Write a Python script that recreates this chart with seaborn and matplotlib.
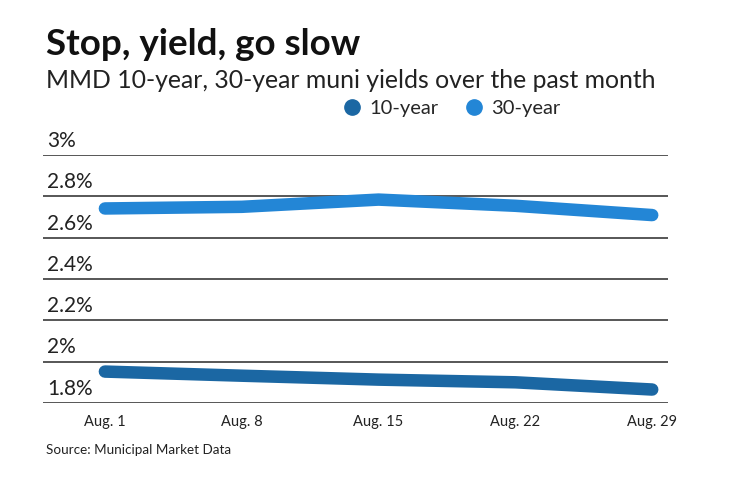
import matplotlib
matplotlib.use("Agg")
import matplotlib.pyplot as plt
import matplotlib.transforms as mtransforms
from matplotlib.lines import Line2D
import pandas as pd
import seaborn as sns

# data
dates = ["Aug. 1", "Aug. 8", "Aug. 15", "Aug. 22", "Aug. 29"]
ten_year = [1.952, 1.932, 1.913, 1.900, 1.865]
thirty_year = [2.742, 2.750, 2.785, 2.755, 2.710]
y_ticks = [1.8, 2.0, 2.2, 2.4, 2.6, 2.8, 3.0]
y_labels = ["1.8%", "2%", "2.2%", "2.4%", "2.6%", "2.8%", "3%"]
series_names = ["10-year", "30-year"]
colors = {"10-year": "#1b67a3", "30-year": "#2386d6"}

sns.set_style("white")
plt.rcParams["font.family"] = ["Lato", "DejaVu Sans"]

df = pd.DataFrame({
    "x": list(range(len(dates))) * 2,
    "yield": ten_year + thirty_year,
    "series": ["10-year"] * len(dates) + ["30-year"] * len(dates),
})

fig = plt.figure(figsize=(7.4, 4.82), dpi=100)
ax = fig.add_axes([0.058, 0.164, 0.845, 0.514])

for val in y_ticks:
    ax.axhline(val, color="#3a3a3a", lw=1.2, zorder=1)

sns.lineplot(data=df, x="x", y="yield", hue="series", palette=colors,
             hue_order=series_names, lw=9, solid_capstyle="round",
             legend=False, ax=ax, zorder=3)

ax.set_ylim(1.8, 3.0)
ax.set_xlim(-0.453, 4.117)
ax.set_yticks([])
ax.set_xticks(range(len(dates)))
ax.set_xticklabels(dates, fontsize=10.5, color="#222222")
ax.tick_params(axis="x", length=0, pad=9)
ax.set_xlabel("")
ax.set_ylabel("")
sns.despine(ax=ax, left=True, bottom=True, top=True, right=True)

trans = mtransforms.blended_transform_factory(ax.transAxes, ax.transData)
trans = trans + mtransforms.ScaledTranslation(3 / 72, 3 / 72, fig.dpi_scale_trans)
for val, lab in zip(y_ticks, y_labels):
    ax.text(0, val, lab, transform=trans, fontsize=15, color="#222222",
            ha="left", va="bottom")

fig.text(0.062, 0.885, "Stop, yield, go slow", fontsize=26.5, fontweight="bold",
         color="#111111", ha="left", va="baseline")
fig.text(0.062, 0.818, "MMD 10-year, 30-year muni yields over the past month",
         fontsize=17.8, color="#222222", ha="left", va="baseline")

handles = [Line2D([], [], marker="o", ls="", color=colors[s], markersize=11)
           for s in series_names]
fig.legend(handles, series_names, loc="center", bbox_to_anchor=(0.61, 0.775),
           ncol=2, frameon=False, fontsize=14.5, handletextpad=0.35,
           columnspacing=1.3, handlelength=1.0)

fig.text(0.062, 0.058, "Source: Municipal Market Data", fontsize=9.7,
         color="#222222", ha="left", va="baseline")

fig.savefig("out.png", dpi=100, facecolor="white")
